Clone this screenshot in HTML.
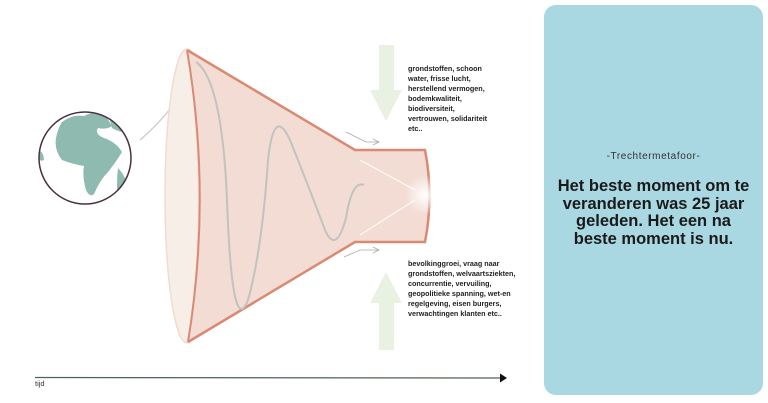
<!DOCTYPE html>
<html><head><meta charset="utf-8"><style>
html,body{margin:0;padding:0;background:#fff;width:768px;height:403px;overflow:hidden;font-family:"Liberation Sans",sans-serif}
.t{position:absolute;font-weight:bold;font-size:7.2px;line-height:10px;color:#222;white-space:nowrap}
.panel{position:absolute;left:544px;top:5px;width:219px;height:390px;background:#a9d8e3;border-radius:12px}
</style></head><body>
<svg width="768" height="403" style="position:absolute;left:0;top:0">
<defs><radialGradient id="g" cx="0.5" cy="0.5" r="0.5"><stop offset="0" stop-color="#fff" stop-opacity="1"/><stop offset="1" stop-color="#fff" stop-opacity="0"/></radialGradient>
<clipPath id="c"><circle cx="85" cy="158" r="46"/></clipPath></defs>
<!-- green arrows -->
<polygon points="379,45 394,45 394,90 402,90 386,121 370,90 379,90" fill="#e9f1e2"/>
<polygon points="379,350 394,350 394,303 402,303 386,272 370,303 379,303" fill="#e9f1e2"/>
<!-- globe -->
<circle cx="85" cy="158" r="46" fill="#fff"/>
<g clip-path="url(#c)" fill="#8fbab0">
<path d="M62,122 q10,-8 22,-6 q10,-6 22,0 l6,10 q-6,4 -14,2 q-4,6 6,10 q12,4 18,14 q-6,10 -14,20 q-8,8 -14,22 q-4,4 -8,-4 q-4,-14 -2,-24 q-12,-2 -22,-6 q-8,-10 -6,-22 q2,-10 6,-16z"/>
<path d="M108,112 q14,4 24,20 q-10,2 -20,-4 z"/>
<path d="M118,168 q8,8 12,24 l-12,10 q-2,-16 0,-34z"/>
<path d="M38,150 q6,2 6,10 q-4,2 -6,-2z"/>
</g>
<circle cx="85" cy="158" r="46" fill="none" stroke="#4a2f3f" stroke-width="1.5"/>
<!-- line from globe -->
<path d="M140,140 Q175,110 195,70" stroke="#c8c8c8" stroke-width="1.2" fill="none"/>
<!-- funnel -->
<ellipse cx="187" cy="196" rx="22" ry="147" fill="#f7eee8" stroke="#f0dcd2" stroke-width="1.5"/>
<path d="M187,50 L355,150 L425,150 Q434,196 425,242 L355,242 L188,342 Q208,196 187,50 Z" fill="#f3dcd4"/>
<path d="M187,50 L355,150 L425,150 Q434,196 425,242 L355,242 L188,342" stroke="#d98a72" stroke-width="2.5" fill="none"/>
<path d="M187,50 Q212,196 188,342" stroke="#d98a72" stroke-width="2" fill="none"/>
<!-- spiral -->
<path d="M196,62 Q222,80 227,200 Q232,340 248,300 Q262,250 268,160 Q274,105 290,140 Q310,190 325,230 Q336,255 346,218 Q352,180 364,185" stroke="#c2c2bf" stroke-width="2" fill="none"/>
<circle cx="425" cy="195" r="20" fill="url(#g)"/>
<line x1="360" y1="160" x2="415" y2="190" stroke="#fff" stroke-width="1"/>
<line x1="360" y1="235" x2="415" y2="200" stroke="#fff" stroke-width="1"/>
<!-- small arrows -->
<path d="M346,132 L366,142 L378,142 M373,139 L379,142 L373,145" stroke="#aaa" stroke-width="0.8" fill="none"/>
<path d="M344,257 L360,250 L378,250 M373,247 L379,250 L373,253" stroke="#aaa" stroke-width="0.8" fill="none"/>
<!-- timeline -->
<line x1="35" y1="377.5" x2="502" y2="378" stroke="#4f6352" stroke-width="1.3"/>
<polygon points="500,373.5 507,378 500,382.5" fill="#111"/>
<text x="35" y="386" font-size="7.5" fill="#333" font-family="Liberation Sans,sans-serif">tijd</text>
</svg>
<div class="t" style="left:408px;top:64px">grondstoffen, schoon<br>water, frisse lucht,<br>herstellend vermogen,<br>bodemkwaliteit,<br>biodiversiteit,<br>vertrouwen, solidariteit<br>etc..</div>
<div class="t" style="left:408px;top:259px">bevolkinggroei, vraag naar<br>grondstoffen, welvaartsziekten,<br>concurrentie, vervuiling,<br>geopolitieke spanning, wet-en<br>regelgeving, eisen burgers,<br>verwachtingen klanten etc..</div>
<div class="panel"></div>
<div style="position:absolute;left:544px;width:219px;top:151px;text-align:center;font-size:10px;letter-spacing:0.6px;color:#333">-Trechtermetafoor-</div>
<div style="position:absolute;left:544px;width:219px;top:178px;text-align:center;font-size:16.5px;line-height:17.5px;font-weight:bold;color:#1a1a1a">Het beste moment om te<br>veranderen was 25 jaar<br>geleden. Het een na<br>beste moment is nu.</div>
</body></html>
